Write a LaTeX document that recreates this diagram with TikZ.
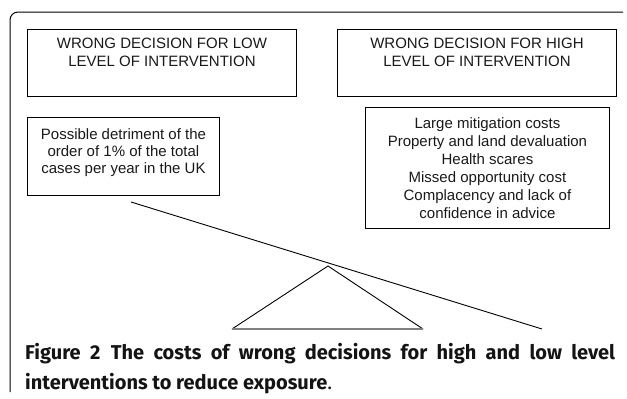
\documentclass[tikz,border=0pt]{standalone}
\usepackage{fontspec}
\setmainfont{Liberation Sans}
\newfontfamily\capfont{Fira Sans}
\begin{document}
\begin{tikzpicture}[x=1pt,y=-1pt,
  box/.style={draw=black, line width=0.9pt, inner sep=0pt, anchor=north west},
  txt/.style={font=\fontsize{15}{18.5}\selectfont, align=center, inner sep=0pt, text=black!90},
  beam/.style={line width=0.9pt},
  captxt/.style={font=\capfont\fontsize{20}{30}\selectfont, inner sep=0pt, anchor=base west, text=black!92}]
\useasboundingbox (0,0) rectangle (627,399);
% frame
\draw[line width=1pt, rounded corners=8pt] (623,12) -- (10,12) -- (10,392);
% header boxes
\node[box, minimum width=269pt, minimum height=67pt] (lowhead) at (27,29) {};
\node[txt, anchor=north] (lowheadtext) at ([yshift=-8.5pt]lowhead.north) {WRONG DECISION FOR LOW\\LEVEL OF INTERVENTION};
\node[box, minimum width=279pt, minimum height=67pt] (highhead) at (337,29) {};
\node[txt, anchor=north] (highheadtext) at ([yshift=-8.5pt]highhead.north) {WRONG DECISION FOR HIGH\\LEVEL OF INTERVENTION};
% content boxes
\node[box, minimum width=192pt, minimum height=78pt] (lowbox) at (27,117) {};
\node[txt, font=\fontsize{15}{17}\selectfont] (lowboxtext) at ([yshift=4pt]lowbox.center) {Possible detriment of the\\order of 1\% of the total\\cases per year in the UK};
\node[box, minimum width=244pt, minimum height=121pt] (highbox) at (365,107) {};
\node[txt, font=\fontsize{15}{18}\selectfont] (highboxtext) at (highbox.center) {Large mitigation costs\\Property and land devaluation\\Health scares\\Missed opportunity cost\\Complacency and lack of\\confidence in advice};
% see-saw
\coordinate (beamL) at (131,202);
\coordinate (beamR) at (542,329);
\coordinate (triL) at (232,329);
\coordinate (triA) at (328,266);
\coordinate (triR) at (423,329);
\draw[beam] (beamL) -- (beamR);
\draw[beam] (triL) -- (triA) -- (triR);
\draw[line width=2pt, color=black!50] (triL) -- (triR);
% caption
\node[captxt] (cap1) at (25,359) {\makebox[590pt][s]{\textbf{Figure 2} \textbf{The costs of wrong decisions for high and low level}}};
\node[captxt] (cap2) at (25,389) {\textbf{interventions to reduce exposure}.};
\end{tikzpicture}
\end{document}
